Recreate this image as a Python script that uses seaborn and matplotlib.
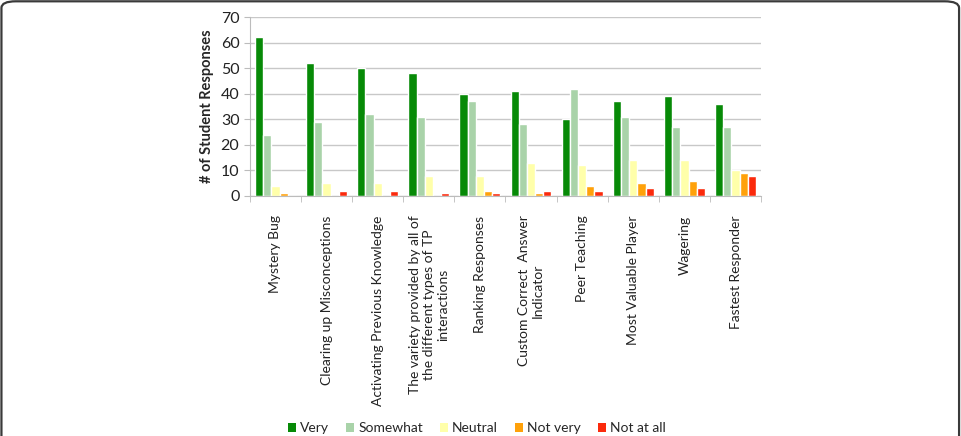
import pandas as pd
import seaborn as sns
import matplotlib.pyplot as plt
from matplotlib.patches import FancyBboxPatch, Patch

# Survey data
features = [
    'Mystery Bug',
    'Clearing up Misconceptions',
    'Activating Previous Knowledge',
    'The variety provided by all of\nthe different types of TP\ninteractions',
    'Ranking Responses',
    'Custom Correct  Answer\nIndicator',
    'Peer Teaching',
    'Most Valuable Player',
    'Wagering',
    'Fastest Responder',
]
ratings = ['Very', 'Somewhat', 'Neutral', 'Not very', 'Not at all']
very = [62, 52, 50, 48, 40, 41, 30, 37, 39, 36]
somewhat = [24, 29, 32, 31, 37, 28, 42, 31, 27, 27]
neutral = [4, 5, 5, 8, 8, 13, 12, 14, 14, 10]
not_very = [1, 0, 0, 0, 2, 1, 4, 5, 6, 9]
not_at_all = [0, 2, 2, 1, 1, 2, 2, 3, 3, 8]

colors = ['#078a07', '#a9d3a9', '#ffffaa', '#ffa10a', '#fb2a0c']

rows = []
for name, series in zip(ratings, [very, somewhat, neutral, not_very, not_at_all]):
    for feat, v in zip(features, series):
        rows.append({'feature': feat, 'rating': name, 'count': v})
df = pd.DataFrame(rows)

sns.set_style("white")
plt.rcParams['font.family'] = ['Lato', 'DejaVu Sans']

fig = plt.figure(figsize=(9.61, 4.36), dpi=100)
ax = fig.add_axes([0.260, 0.5505, 0.532, 0.4105])

sns.barplot(data=df, x='feature', y='count', hue='rating', hue_order=ratings,
            palette=colors, width=0.8, saturation=1, ax=ax, legend=False)

ax.set_ylim(0, 70)
ax.set_xlim(-0.5, len(features) - 0.5)
ax.set_yticks(range(0, 71, 10))
ax.yaxis.grid(True, color='#c8c8c8', lw=1)
ax.set_axisbelow(True)
for s in ['top', 'right']:
    ax.spines[s].set_visible(False)
ax.spines['left'].set_color('#bcbcbc')
ax.spines['bottom'].set_color('#bcbcbc')

# category boundaries get the tick marks, labels sit in the middle
ax.set_xticks([i + 0.5 for i in range(-1, len(features))], minor=True)
ax.set_xticks(range(len(features)))
ax.set_xticklabels(features, rotation=90, fontsize=10, color='#222222',
                   multialignment='center')
ax.tick_params(axis='x', which='major', length=0, pad=14)
ax.tick_params(axis='x', which='minor', length=4, color='#bcbcbc', bottom=True)
ax.tick_params(axis='y', labelsize=11.5, colors='#222222', length=4, left=True)
ax.tick_params(axis='y', color='#bcbcbc')

ax.set_xlabel('')
ax.set_ylabel('# of Student Responses', fontsize=10.5, fontweight='bold', labelpad=5)

handles = [Patch(facecolor=c, edgecolor='none', label=r) for c, r in zip(colors, ratings)]
fig.legend(handles=handles, loc='center', bbox_to_anchor=(0.496, 0.018), ncol=5,
           frameon=False, fontsize=10, handlelength=0.6, handleheight=0.6,
           handletextpad=0.3, columnspacing=1.2)

frame = FancyBboxPatch((0.0015, -0.1), 0.9965, 1.097, boxstyle='round,pad=0,rounding_size=0.015',
                       transform=fig.transFigure, fill=False, edgecolor='#3a3a3a', lw=1.6)
fig.patches.append(frame)

fig.savefig('out.png', dpi=100)
